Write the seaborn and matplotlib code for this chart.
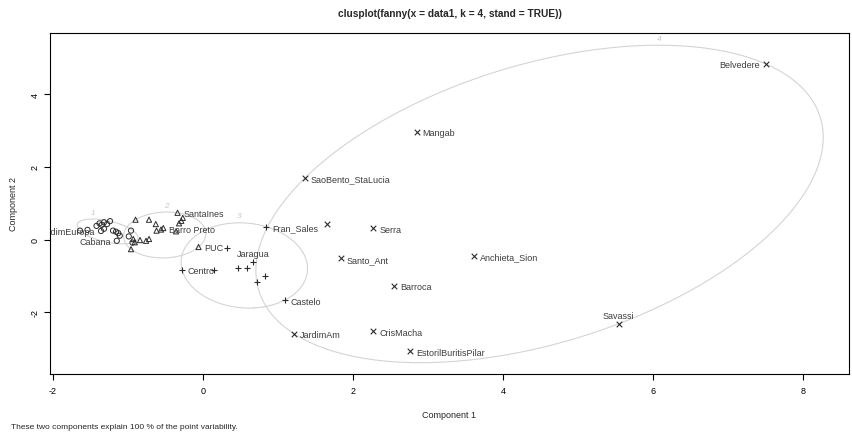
import numpy as np
import pandas as pd
import matplotlib
matplotlib.use("Agg")
import matplotlib.pyplot as plt
import seaborn as sns

# Component scores of each neighbourhood and its fanny cluster (hard assignment)
names = [
    "JardimEuropa", "", "", "", "", "", "", "", "", "", "", "", "", "",
    "Cabana", "", "", "",
    "SantaInes", "Barro Preto", "PUC", "", "", "", "", "", "", "", "", "",
    "", "", "", "", "", "",
    "Fran_Sales", "", "Centro", "", "", "", "Jaragua", "", "", "Castelo",
    "Belvedere", "Mangab", "SaoBento_StaLucia", "", "Serra", "Santo_Ant",
    "Anchieta_Sion", "Barroca", "JardimAm", "CrisMacha",
    "EstorilBuritisPilar", "Savassi",
]
comp1 = [
    -1.36, -1.64, -1.54, -1.42, -1.38, -1.35, -1.32, -1.28, -1.24, -1.32,
    -1.20, -1.16, -1.13, -1.11, -1.15, -0.96, -0.99, -0.94,
    -0.34, -0.53, -0.06, -0.90, -0.72, -0.63, -0.62, -0.56, -0.27, -0.29,
    -0.32, -0.36, -0.93, -0.91, -0.84, -0.76, -0.72, -0.96,
    0.84, 0.32, -0.28, 0.14, 0.46, 0.58, 0.67, 0.82, 0.72, 1.09,
    7.50, 2.85, 1.36, 1.65, 2.27, 1.84, 3.61, 2.55, 1.21, 2.27, 2.76, 5.54,
]
comp2 = [
    0.24, 0.25, 0.27, 0.38, 0.45, 0.41, 0.48, 0.43, 0.51, 0.30,
    0.25, 0.22, 0.18, 0.11, -0.03, 0.25, 0.09, -0.08,
    0.74, 0.32, -0.20, 0.55, 0.55, 0.43, 0.25, 0.28, 0.60, 0.52,
    0.45, 0.23, 0.02, -0.07, -0.01, -0.03, 0.02, -0.26,
    0.36, -0.24, -0.82, -0.83, -0.79, -0.78, -0.60, -0.99, -1.17, -1.66,
    4.83, 2.96, 1.70, 0.42, 0.31, -0.51, -0.44, -1.26, -2.58, -2.51, -3.06, -2.31,
]
cluster = [1] * 18 + [2] * 18 + [3] * 10 + [4] * 12

x_ticks = [-2, 0, 2, 4, 6, 8]
y_ticks = [-2, 0, 2, 4]
title = "clusplot(fanny(x = data1, k = 4, stand = TRUE))"
subtitle = "These two components explain 100 % of the point variability."

df = pd.DataFrame({"name": names, "c1": comp1, "c2": comp2, "clus": cluster})

# side of each point label relative to its point
label_side = {
    "JardimEuropa": "l", "Cabana": "l", "Belvedere": "l",
    "Jaragua": "t", "Savassi": "t",
}

marker_of = {1: "o", 2: "^", 3: "+", 4: "x"}
ink = "#2b2b2b"
txt = "#3c3c3c"
hull_col = "#d4d4d4"


def spanning_ellipse(pts, tol=1e-6, max_iter=200000):
    """Minimum-volume ellipse containing all points (Khachiyan)."""
    n, d = pts.shape
    q = np.vstack([pts.T, np.ones(n)])
    u = np.full(n, 1.0 / n)
    for _ in range(max_iter):
        xm = (q * u) @ q.T
        m = np.einsum("ij,ji->i", q.T @ np.linalg.inv(xm), q)
        j = np.argmax(m)
        step = (m[j] - d - 1) / ((d + 1) * (m[j] - 1))
        nu = (1 - step) * u
        nu[j] += step
        err = np.linalg.norm(nu - u)
        u = nu
        if err < tol:
            break
    c = pts.T @ u
    a = np.linalg.inv((pts.T * u) @ pts - np.outer(c, c)) / d
    # scale so that every point lies inside or on the hull
    dist = np.einsum("ij,jk,ik->i", pts - c, a, pts - c)
    a = a / dist.max()
    w, v = np.linalg.eigh(a)
    t = np.linspace(0, 2 * np.pi, 400)
    circ = np.vstack([np.cos(t), np.sin(t)])
    return (c[:, None] + v @ np.diag(1 / np.sqrt(w)) @ circ).T


sns.set_theme(style="ticks")
plt.rcParams["font.family"] = ["Liberation Sans", "DejaVu Sans"]

W, H = 853, 435
fig = plt.figure(figsize=(W / 100, H / 100), dpi=100)
L, R, T, B = 50, 849, 34, 375
ax = fig.add_axes([L / W, 1 - B / H, (R - L) / W, (B - T) / H])

# cluster hulls with their numbers
for k in sorted(df["clus"].unique()):
    sub = df[df["clus"] == k]
    ell = spanning_ellipse(sub[["c1", "c2"]].to_numpy())
    ax.plot(ell[:, 0], ell[:, 1], color=hull_col, lw=0.8, zorder=1)
    top = ell[np.argmax(ell[:, 1])]
    ax.annotate(str(k), xy=top, xytext=(0, 2.5), textcoords="offset points",
                ha="center", va="bottom", fontsize=6, color="#c8c8c8",
                style="italic", zorder=1)

# points, one marker per cluster
for k, sub in df.groupby("clus"):
    m = marker_of[k]
    if m in ("o", "^"):
        sns.scatterplot(data=sub, x="c1", y="c2", marker=m, s=14,
                        facecolor="none", edgecolor=ink, linewidth=0.7,
                        ax=ax, zorder=3, legend=False)
    else:
        sns.scatterplot(data=sub, x="c1", y="c2", marker=m, s=16,
                        color=ink, linewidth=0.8, ax=ax, zorder=3,
                        legend=False)

# point labels
for _, r in df[df["name"] != ""].iterrows():
    side = label_side.get(r["name"], "r")
    if side == "r":
        off, ha, va = (4.2, 0), "left", "center_baseline"
    elif side == "l":
        off, ha, va = (-4.2, 0), "right", "center_baseline"
    else:
        off, ha, va = (0, 3.9), "center", "baseline"
    ax.annotate(r["name"], xy=(r["c1"], r["c2"]), xytext=off,
                textcoords="offset points", ha=ha, va=va, fontsize=6.5,
                color=txt, zorder=4, annotation_clip=True, clip_on=True)

ax.set_xlim(-2.04, 8.61)
ax.set_ylim(-3.69, 5.68)
ax.set_xticks(x_ticks)
ax.set_yticks(y_ticks)
ax.set_xticklabels([str(v) for v in x_ticks])
ax.set_yticklabels([str(v) for v in y_ticks])
ax.tick_params(axis="both", direction="out", length=4.3, width=0.8,
               labelsize=6.5, colors="black")
ax.tick_params(axis="x", pad=4.5)
ax.tick_params(axis="y", pad=3.0)
for lab in ax.get_yticklabels():
    lab.set_rotation(90)
    lab.set_va("center")
for s in ax.spines.values():
    s.set_visible(True)
    s.set_color("black")
    s.set_linewidth(0.8)

ax.set_xlabel("Component 1", fontsize=6.5)
ax.set_ylabel("Component 2", fontsize=6.5)
ax.xaxis.set_label_coords(0.5, (B - 416) / (B - T))
ax.yaxis.set_label_coords((14 - L) / (R - L), 0.5)
ax.xaxis.label.set_va("center")
ax.yaxis.label.set_va("center")

ax.text(0.5, (B - 14) / (B - T), title, transform=ax.transAxes,
        ha="center", va="center", fontsize=7.3, fontweight="bold")
fig.text(11 / W, 1 - 428 / H, subtitle, ha="left", va="center", fontsize=6)

fig.savefig("out.png", dpi=100)
